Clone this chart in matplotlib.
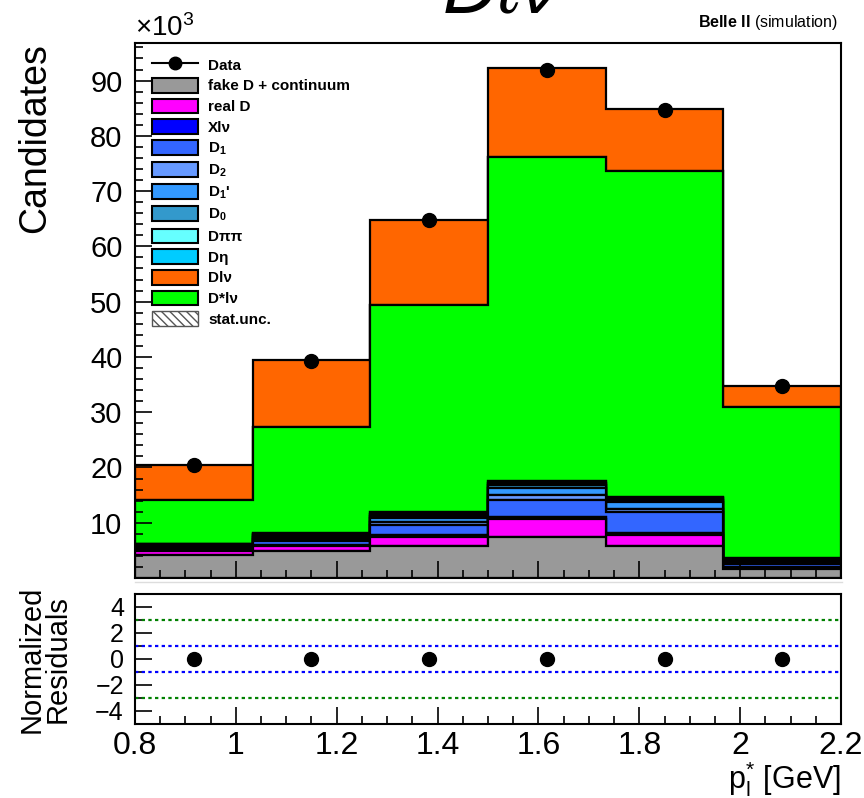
import numpy as np
import matplotlib
matplotlib.use('Agg')
import matplotlib.pyplot as plt
from matplotlib.patches import Patch
from matplotlib.lines import Line2D
from matplotlib.ticker import MultipleLocator, NullFormatter

plt.rcParams['font.family'] = ['Liberation Sans', 'DejaVu Sans']
plt.rcParams['mathtext.fontset'] = 'custom'
plt.rcParams['mathtext.rm'] = 'Liberation Sans'
plt.rcParams['mathtext.it'] = 'Liberation Sans:italic'
plt.rcParams['mathtext.bf'] = 'Liberation Sans:bold'

# bin edges in p_l* [GeV]
edges = [0.8, 1.0333, 1.2667, 1.5, 1.7333, 1.9667, 2.2]

# stacked components, in units of 10^3 candidates (bottom to top)
fake_d = [4.2, 4.8, 5.8, 7.4, 5.7, 1.6]
real_d = [0.6, 1.0, 1.6, 3.2, 2.0, 0.2]
x_lnu = [0.3, 0.2, 0.3, 0.4, 0.4, 0.2]
d_1 = [0.3, 0.7, 1.9, 3.2, 3.9, 0.5]
d_2 = [0.2, 0.3, 0.6, 0.8, 0.5, 0.2]
d_1p = [0.2, 0.5, 0.7, 1.2, 1.2, 0.4]
d_0 = [0.2, 0.3, 0.4, 0.6, 0.5, 0.2]
d_pipi = [0.1, 0.2, 0.3, 0.4, 0.3, 0.2]
d_eta = [0.1, 0.2, 0.3, 0.4, 0.2, 0.2]
dstar_lnu = [8.0, 19.2, 37.5, 58.6, 59.0, 27.2]
d_lnu = [6.3, 12.0, 15.3, 16.0, 11.1, 3.9]

data = [20.5, 39.3, 64.8, 92.0, 84.6, 34.8]
residuals = [0, 0, 0, 0, 0, 0]

components = [fake_d, real_d, x_lnu, d_1, d_2, d_1p, d_0, d_pipi, d_eta, dstar_lnu, d_lnu]
colors = ['#999999', '#ff00ff', '#0000ff', '#3366ff', '#6699ff', '#3399ff',
          '#3399cc', '#66ffff', '#00ccff', '#00ff00', '#ff6600']

centers = [(edges[i] + edges[i + 1]) / 2 for i in range(len(edges) - 1)]

fig = plt.figure(figsize=(8.64, 7.98), dpi=100)
W, H = 864, 798
ax = fig.add_axes([135 / W, 1 - 578 / H, 706 / W, 535 / H])
ax2 = fig.add_axes([135 / W, 1 - 724 / H, 706 / W, 130 / H])

ax.hist([centers] * len(components), bins=edges, weights=components, stacked=True,
        histtype='stepfilled', color=colors, edgecolor='black', linewidth=1.6)
ax.plot(centers, data, 'o', color='black', ms=10)

ax.set_xlim(0.8, 2.2)
ax.set_ylim(0, 96.8)
ax.yaxis.set_minor_locator(MultipleLocator(2))
ax.set_yticks([10, 20, 30, 40, 50, 60, 70, 80, 90])
ax.xaxis.set_major_locator(MultipleLocator(0.2))
ax.xaxis.set_minor_locator(MultipleLocator(0.05))
ax.xaxis.set_major_formatter(NullFormatter())
ax.tick_params(which='both', direction='in', width=1.2)
ax.tick_params(axis='y', labelsize=21, pad=9)
ax.tick_params(which='major', length=12)
ax.tick_params(which='minor', length=6)
for s in ax.spines.values():
    s.set_linewidth(1.5)

ax.text(-0.142, 1.0, 'Candidates', rotation=90, ha='center', va='top',
        fontsize=27, transform=ax.transAxes)
fig.text(135 / W, 1 - 28 / H, r'$\times$10$^{3}$', fontsize=20, va='center', ha='left')
fig.text(838 / W, 1 - 22 / H, r'$\mathbf{Belle\ II}$ (simulation)', fontsize=11.5,
         ha='right', va='center')
fig.text(0.58, 1 - 13 / H, r'$D\ell\nu$', fontsize=54, ha='center', va='baseline')

handles = [Line2D([], [], color='black', marker='o', ms=9, lw=1.5)]
labels = ['Data', 'fake D + continuum', 'real D', 'Xl\u03bd', r'D$_\mathbf{1}$',
          r'D$_\mathbf{2}$', r"D$_\mathbf{1}$'", r'D$_\mathbf{0}$', 'D\u03c0\u03c0',
          'D\u03b7', 'Dl\u03bd', 'D*l\u03bd', 'stat.unc.']
leg_colors = ['#999999', '#ff00ff', '#0000ff', '#3366ff', '#6699ff', '#3399ff',
              '#3399cc', '#66ffff', '#00ccff', '#ff6600', '#00ff00']
for c in leg_colors:
    handles.append(Patch(facecolor=c, edgecolor='black', linewidth=1.5))
handles.append(Patch(facecolor='white', edgecolor='#555555', hatch='\\\\\\\\', linewidth=1))
leg = ax.legend(handles, labels, loc='upper left', bbox_to_anchor=(0.015, 0.985),
                frameon=False, prop={'weight': 'bold', 'size': 11},
                handlelength=3.0, handleheight=1.1, labelspacing=0.34, handletextpad=0.7,
                borderaxespad=0)

# residual panel
for v, c in [(3, '#008000'), (-3, '#008000'), (1, '#0000ff'), (-1, '#0000ff')]:
    ax2.axhline(v, color=c, linestyle=(0, (1.5, 1.5)), lw=1.6)
ax2.plot(centers, residuals, 'o', color='black', ms=10)
ax2.set_xlim(0.8, 2.2)
ax2.set_ylim(-5, 5)
ax2.set_yticks([-4, -2, 0, 2, 4])
ax2.yaxis.set_minor_locator(MultipleLocator(1))
ax2.xaxis.set_minor_locator(MultipleLocator(0.05))
ax2.set_xticks([0.8, 1.0, 1.2, 1.4, 1.6, 1.8, 2.0, 2.2])
ax2.set_xticklabels(['0.8', '1', '1.2', '1.4', '1.6', '1.8', '2', '2.2'])
ax2.tick_params(which='both', direction='in', width=1.2)
ax2.tick_params(axis='x', labelsize=23, pad=5)
ax2.tick_params(axis='y', labelsize=18, pad=8)
ax2.tick_params(which='major', length=12)
ax2.tick_params(which='minor', length=6)
for s in ax2.spines.values():
    s.set_linewidth(1.5)
ax2.text(-0.128, 0.5, 'Normalized\nResiduals', rotation=90, ha='center', va='center',
         fontsize=21, linespacing=0.95, transform=ax2.transAxes)
ax2.text(1.0, -0.27, r'p$_{\mathrm{l}}^{*}$ [GeV]', ha='right', va='top',
         fontsize=22, transform=ax2.transAxes)

fig.add_artist(Line2D([135 / W, 842 / W], [1 - 582 / H] * 2, color='#dddddd', lw=1))

fig.savefig('out.png', dpi=100)
